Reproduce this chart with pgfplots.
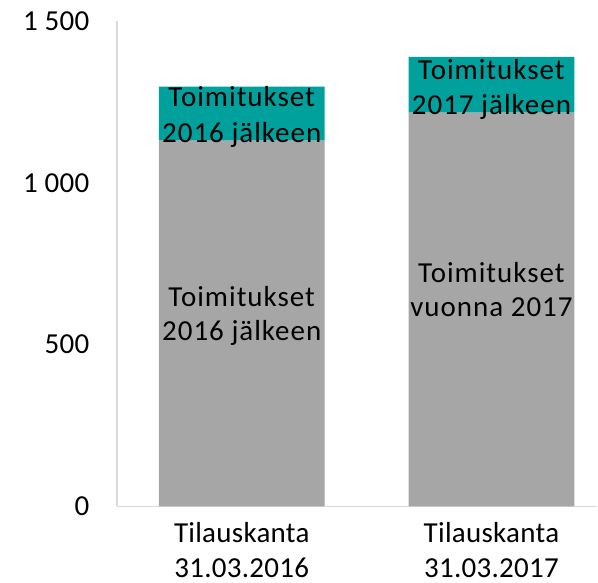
\documentclass[border=0pt]{standalone}
\usepackage{pgfplots}
\pgfplotsset{compat=1.18}
\usepackage{fontspec}
\setmainfont[LetterSpace=3.5]{Carlito}
\newfontfamily\tickfont[LetterSpace=1]{Carlito}
\definecolor{tealc}{RGB}{0,160,156}
\definecolor{barg}{RGB}{166,166,166}
\definecolor{axg}{RGB}{217,217,217}
\newcommand{\fs}{\fontsize{29pt}{35pt}\selectfont}
\begin{document}
\begin{tikzpicture}
\begin{axis}[
  scale only axis, width=481pt, height=486pt,
  xmin=-0.5, xmax=1.424, ymin=0, ymax=1500,
  ybar stacked, bar width=166pt,
  axis x line*=bottom, axis y line*=left,
  axis line style={axg, line width=1.3pt},
  xtick={0,1},
  xticklabels={{Tilauskanta\\31.03.2016},{Tilauskanta\\31.03.2017}},
  ytick={0,500,1000,1500},
  yticklabels={0,500,1 000,1 500},
  major tick length=0pt,
  tick label style={font=\tickfont\fs},
  xticklabel style={align=center, inner ysep=0pt, yshift=-16pt},
  yticklabel style={xshift=-24pt},
  clip=false,
]
\addplot[fill=barg, draw=none] coordinates {(0,1130) (1,1217)};
\addplot[fill=tealc, draw=none] coordinates {(0,167) (1,172)};
\coordinate (a1) at (axis cs:0,1235);
\coordinate (a2) at (axis cs:0,1123);
\coordinate (a3) at (axis cs:0,617);
\coordinate (a4) at (axis cs:0,512);
\coordinate (b1) at (axis cs:1,1318);
\coordinate (b2) at (axis cs:1,1210);
\coordinate (b3) at (axis cs:1,691);
\coordinate (b4) at (axis cs:1,586);
\path (rel axis cs:0,0) ++(-117pt,-76pt) rectangle ++(598pt,583pt);
\end{axis}
\node[anchor=base, font=\fs] at (a1) {Toimitukset};
\node[anchor=base, font=\fs] at (a2) {2016 jälkeen};
\node[anchor=base, font=\fs] at (a3) {Toimitukset};
\node[anchor=base, font=\fs] at (a4) {2016 jälkeen};
\node[anchor=base, font=\fs] at (b1) {Toimitukset};
\node[anchor=base, font=\fs] at (b2) {2017 jälkeen};
\node[anchor=base, font=\fs] at (b3) {Toimitukset};
\node[anchor=base, font=\fs] at (b4) {vuonna 2017};
\end{tikzpicture}
\end{document}
